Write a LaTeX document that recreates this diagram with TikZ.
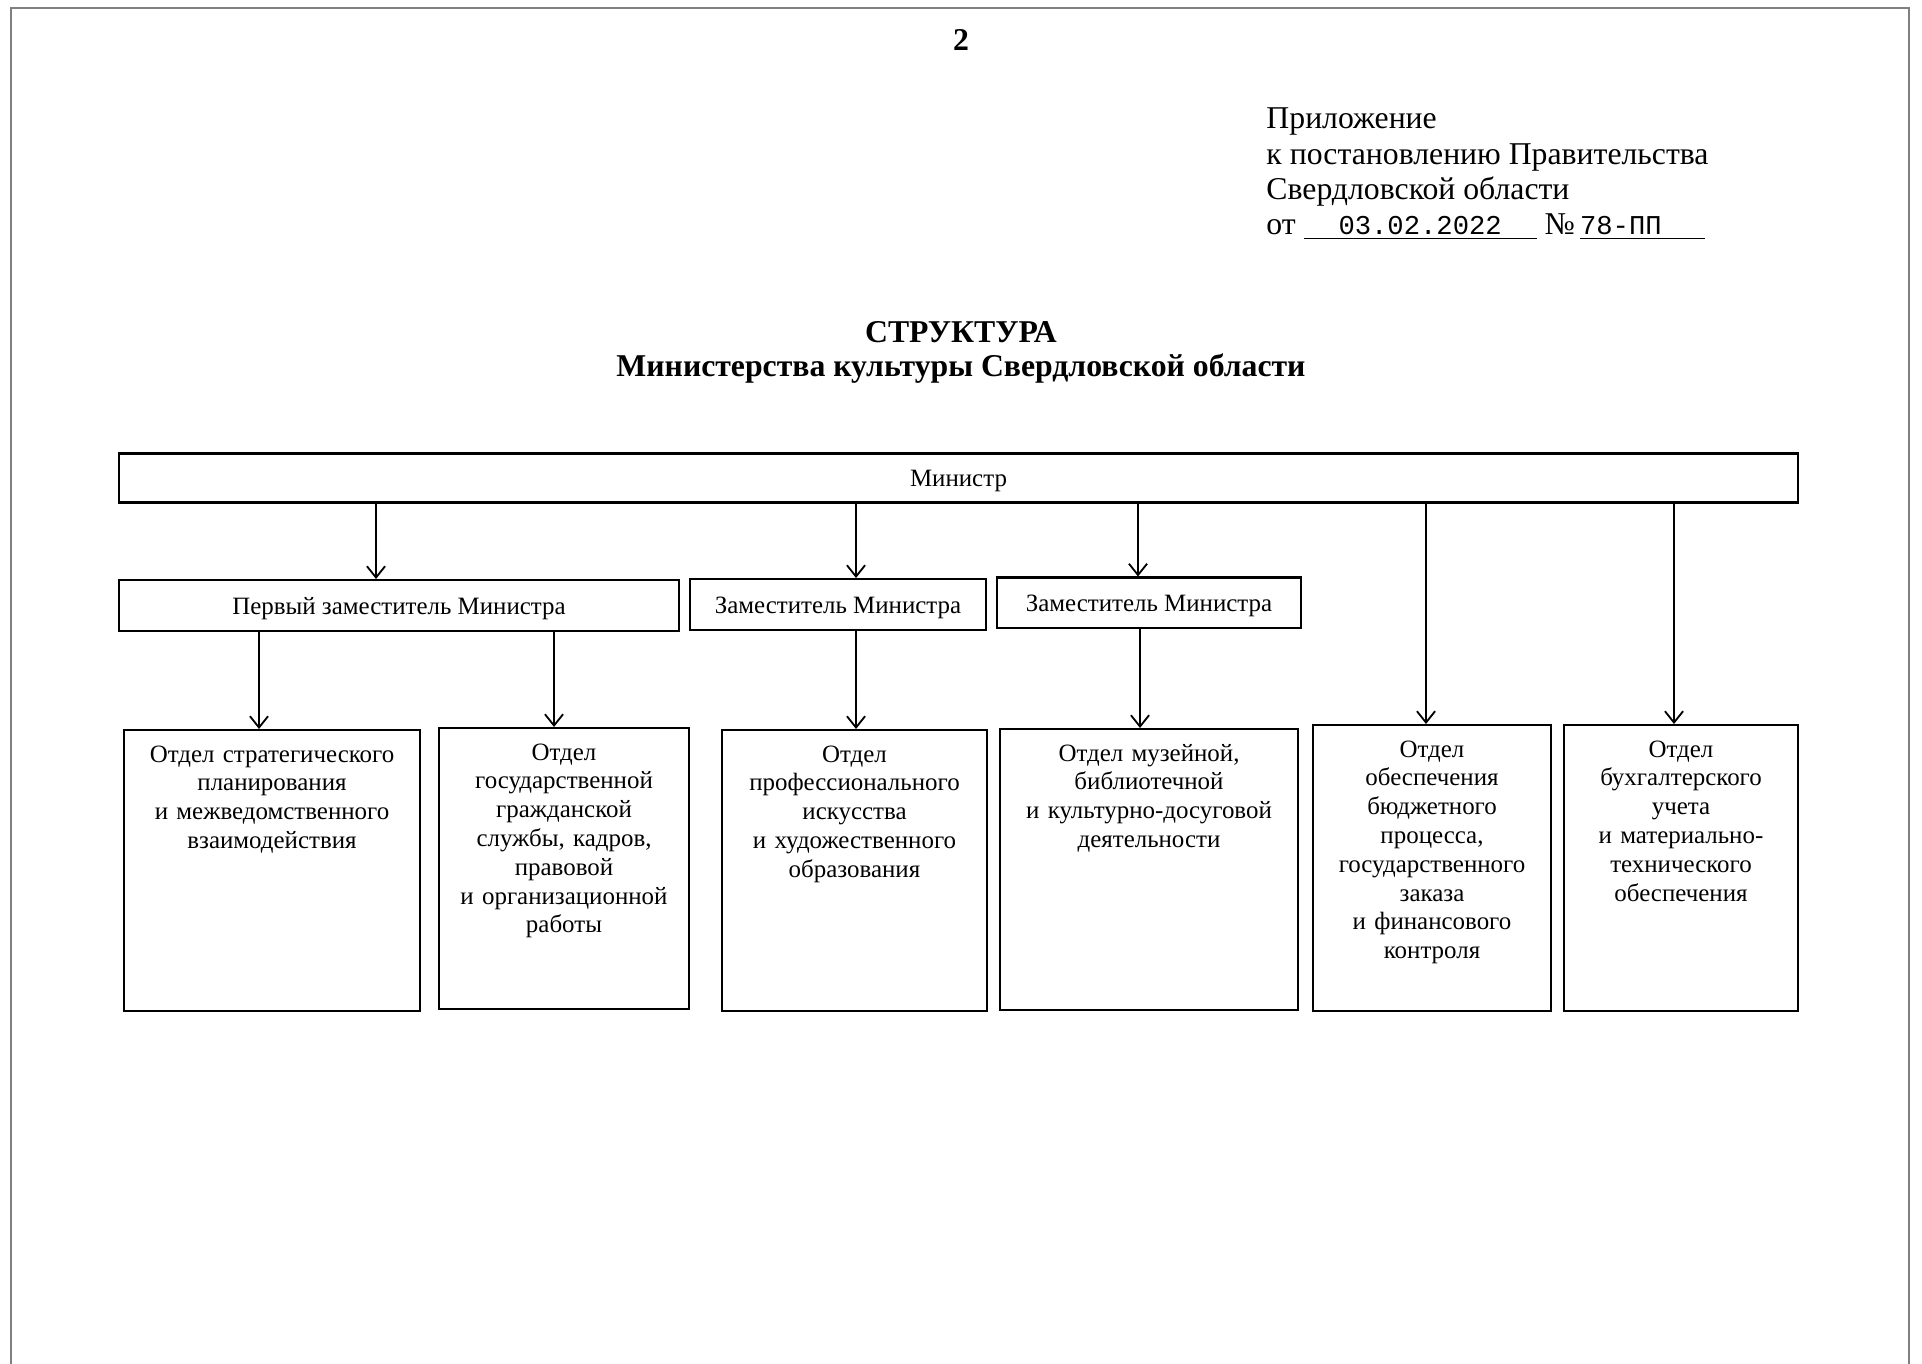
\documentclass[tikz,border=0pt]{standalone}
\usepackage{fontspec}
\setmainfont{Liberation Serif}
\setmonofont{Liberation Mono}
\usetikzlibrary{arrows.meta}

\begin{document}
\begin{tikzpicture}[x=0.0155cm, y=-0.0155cm,
    box/.style={draw, line width=0.9pt, inner sep=0pt, text height=10.2pt, text depth=2.3pt,
      font=\fontsize{11}{12}\selectfont},
    dept/.style={draw, line width=0.9pt, anchor=north, align=center, inner sep=0pt,
      font=\fontsize{11}{12.7}\selectfont, text height=0.497cm, text depth=3.858cm},
    >={Straight Barb[length=5pt, width=8pt]}]
  \useasboundingbox (0,0) rectangle (1922,1364);
  \draw[gray, line width=1pt] (11,1364) -- (11,8) -- (1909,8) -- (1909,1364);

  \node[font=\fontsize{14}{16}\bfseries\selectfont] (page) at (961,40) {2};
  \node[anchor=north west, align=left, inner sep=0pt, font=\fontsize{14}{15.6}\selectfont] (annex) at (1266,107.5)
    {Приложение\\ к постановлению Правительства\\ Свердловской области\\
     от \underline{\makebox[3.61cm][c]{\fontsize{12}{14}\ttfamily 03.02.2022}}
     №\,\underline{\makebox[1.94cm][l]{\fontsize{12}{14}\ttfamily 78-ПП}}};
  \node[align=center, font=\fontsize{14}{15}\bfseries\selectfont] (title) at (961,352)
    {СТРУКТУРА\\ Министерства культуры Свердловской области};

  \node[box, minimum width=26.02cm, minimum height=0.76cm] (min) at (958.5,478) {Министр};

  \node[box, minimum width=8.68cm, minimum height=0.79cm] (zam1) at (399,605.5) {Первый заместитель Министра};
  \node[box, minimum width=4.59cm, minimum height=0.79cm] (zam2) at (838,604.5) {Заместитель Министра};
  \node[box, minimum width=4.71cm, minimum height=0.79cm] (zam3) at (1149,603) {Заместитель Министра};

  \node[dept, text width=4.588cm] (otd1) at (272,729)
    {Отдел стратегического\\ планирования\\ и межведомственного\\ взаимодействия};
  \node[dept, text width=3.875cm] (otd2) at (564,727)
    {Отдел\\ государственной\\ гражданской\\ службы, кадров,\\ правовой\\ и организационной\\ работы};
  \node[dept, text width=4.108cm] (otd3) at (854.5,729)
    {Отдел\\ профессионального\\ искусства\\ и художественного\\ образования};
  \node[dept, text width=4.619cm] (otd4) at (1149,728)
    {Отдел музейной,\\ библиотечной\\ и культурно-досуговой\\ деятельности};
  \node[dept, text width=3.689cm, text depth=3.936cm] (otd5) at (1432,724)
    {Отдел\\ обеспечения\\ бюджетного\\ процесса,\\ государственного\\ заказа\\ и финансового\\ контроля};
  \node[dept, text width=3.627cm, text depth=3.936cm] (otd6) at (1681,724)
    {Отдел\\ бухгалтерского\\ учета\\ и материально-\\ технического\\ обеспечения};

  \begin{scope}[->, line width=0.8pt]
    \draw (min.south -| 376,0) -- (zam1.north -| 376,0);
    \draw (min.south -| 856,0) -- (zam2.north -| 856,0);
    \draw (min.south -| 1138,0) -- (zam3.north -| 1138,0);
    \draw (min.south -| 1426,0) -- (otd5.north -| 1426,0);
    \draw (min.south -| 1674,0) -- (otd6.north -| 1674,0);
    \draw (zam1.south -| 259,0) -- (otd1.north -| 259,0);
    \draw (zam1.south -| 554,0) -- (otd2.north -| 554,0);
    \draw (zam2.south -| 856,0) -- (otd3.north -| 856,0);
    \draw (zam3.south -| 1140,0) -- (otd4.north -| 1140,0);
  \end{scope}
\end{tikzpicture}
\end{document}
